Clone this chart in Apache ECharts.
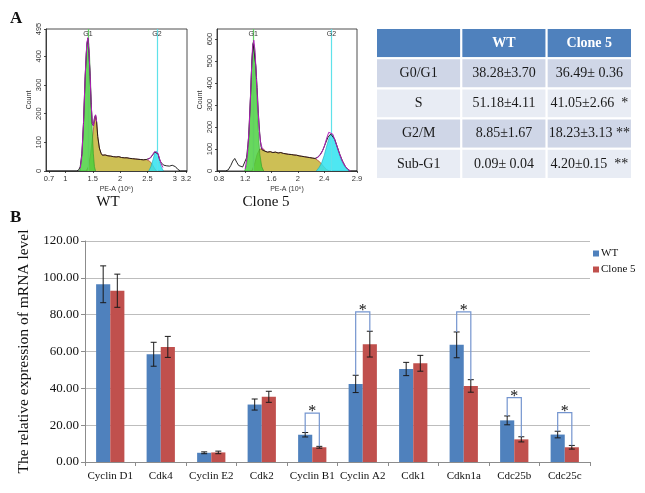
<!DOCTYPE html>
<html><head><meta charset="utf-8">
<script src="https://cdn.jsdelivr.net/npm/echarts@6/dist/echarts.min.js"></script>
<style>html,body{margin:0;padding:0;background:#fff}#c{width:645px;height:493px}</style>
</head><body><div id="c"></div>
<script>
// ---------------- Panel B data ----------------
const categories = ['Cyclin D1','Cdk4','Cyclin E2','Cdk2','Cyclin B1','Cyclin A2','Cdk1','Cdkn1a','Cdc25b','Cdc25c'];
const wtValues    = [96.5, 58.5, 5.0, 31.2, 14.8, 42.4, 50.5, 63.6, 22.6, 14.9];
const wtErrors    = [10.0, 6.5, 0.5, 3.0, 1.2, 4.7, 3.6, 7.0, 2.4, 1.8];
const cloneValues = [93.0, 62.5, 5.2, 35.4, 8.0, 64.0, 53.6, 41.3, 12.3, 8.0];
const cloneErrors = [9.0, 5.7, 0.7, 3.0, 0.5, 7.0, 4.3, 3.4, 1.4, 1.0];
const sigCategories  = [4, 5, 7, 8, 9];
const sigBracketTops = [26.5, 81.5, 81.5, 35.0, 26.8];
const seriesNames = ['WT', 'Clone 5'];

// ---------------- Panel A table ----------------
const tableHeader = ['', 'WT', 'Clone 5'];
const tableRows   = ['G0/G1', 'S', 'G2/M', 'Sub-G1'];
const tableWT     = ['38.28\u00b13.70', '51.18\u00b14.11', '8.85\u00b11.67', '0.09\u00b1 0.04'];
const tableClone  = ['36.49\u00b1 0.36', '41.05\u00b12.66  *', '18.23\u00b13.13 **', '4.20\u00b10.15  **'];

// ---------------- Panel A histograms (WT) ----------------
const wtXTicks = [0.7, 1, 1.5, 2, 2.5, 3, 3.2];
const wtYTicks = [0, 100, 200, 300, 400, 495];
const wtGates  = [1.405, 2.67];
const wtRaw = [[0.645,0],[1.20,0],[1.24,3],[1.27,15],[1.30,60],[1.33,170],[1.36,330],[1.39,440],[1.41,462],[1.43,410],[1.45,330],[1.47,230],[1.49,165],[1.51,158],[1.53,185],[1.55,195],[1.57,170],[1.59,120],[1.62,80],[1.65,62],[1.675,55],[1.70,52],[1.725,56],[1.75,50],[1.775,53],[1.80,48],[1.825,52],[1.85,47],[1.875,50],[1.90,46],[1.925,49],[1.95,45],[1.975,50],[2.00,44],[2.025,47],[2.05,43],[2.075,46],[2.10,42],[2.125,46],[2.15,41],[2.175,44],[2.20,40],[2.225,43],[2.25,39],[2.275,42],[2.30,38],[2.325,41],[2.35,37],[2.375,40],[2.40,36],[2.425,39],[2.45,36],[2.475,40],[2.50,38],[2.55,45],[2.59,55],[2.63,66],[2.66,72],[2.69,60],[2.72,40],[2.75,28],[2.80,20],[2.85,18],[2.90,17],[2.95,20],[2.98,24],[3.01,15],[3.05,6],[3.10,0],[3.22,0]];
const wtG1 = [[1.26,0],[1.29,30],[1.32,110],[1.35,260],[1.38,410],[1.41,462],[1.43,440],[1.45,360],[1.47,250],[1.49,140],[1.51,60],[1.53,15],[1.55,0]];
const wtS  = [[1.38,0],[1.42,15],[1.46,60],[1.49,110],[1.52,160],[1.55,195],[1.57,170],[1.59,120],[1.62,80],[1.65,62],[1.675,55],[1.70,52],[1.725,56],[1.75,50],[1.775,53],[1.80,48],[1.825,52],[1.85,47],[1.875,50],[1.90,46],[1.925,49],[1.95,45],[1.975,50],[2.00,44],[2.025,47],[2.05,43],[2.075,46],[2.10,42],[2.125,46],[2.15,41],[2.175,44],[2.20,40],[2.225,43],[2.25,39],[2.275,42],[2.30,38],[2.325,41],[2.35,37],[2.375,40],[2.40,36],[2.425,39],[2.45,36],[2.475,40],[2.50,37],[2.54,34],[2.58,25],[2.62,12],[2.66,0]];
const wtG2 = [[2.52,0],[2.56,15],[2.60,40],[2.63,62],[2.66,70],[2.69,58],[2.72,35],[2.75,15],[2.79,0]];
const wtFit = [[1.27,10],[1.30,55],[1.33,165],[1.36,330],[1.39,445],[1.41,465],[1.43,415],[1.45,335],[1.47,235],[1.49,168],[1.51,158],[1.53,182],[1.55,196],[1.57,172],null,[2.50,40],[2.55,46],[2.59,57],[2.63,68],[2.66,74],[2.69,62],[2.72,42],[2.75,25],[2.78,12]];

// ---------------- Panel A histograms (Clone 5) ----------------
const c5XTicks = [0.8, 1.2, 1.6, 2, 2.4, 2.9];
const c5YTicks = [0, 100, 200, 300, 400, 500, 600, 646];
const c5Gates  = [1.32, 2.51];
const c5Raw = [[0.77,0],[0.90,0],[0.94,5],[0.98,25],[1.01,45],[1.04,57],[1.07,40],[1.10,25],[1.13,20],[1.16,18],[1.19,20],[1.22,60],[1.25,150],[1.28,340],[1.30,500],[1.32,580],[1.34,575],[1.36,480],[1.38,380],[1.40,260],[1.42,170],[1.44,110],[1.46,95],[1.48,100],[1.50,90],[1.52,94],[1.54,86],[1.56,92],[1.58,88],[1.60,93],[1.62,84],[1.64,90],[1.66,86],[1.68,91],[1.70,82],[1.72,87],[1.74,84],[1.76,88],[1.78,80],[1.80,84],[1.82,78],[1.84,83],[1.86,76],[1.88,81],[1.90,75],[1.92,79],[1.94,73],[1.96,77],[1.98,72],[2.00,76],[2.02,69],[2.04,73],[2.06,67],[2.08,71],[2.10,65],[2.12,69],[2.14,63],[2.16,66],[2.18,61],[2.20,64],[2.22,59],[2.24,62],[2.26,57],[2.28,60],[2.30,62],[2.34,75],[2.38,95],[2.42,125],[2.46,155],[2.50,168],[2.53,165],[2.56,145],[2.60,110],[2.64,75],[2.68,45],[2.72,22],[2.76,8],[2.80,0],[2.90,0]];
const c5G1 = [[1.19,0],[1.22,30],[1.25,120],[1.28,330],[1.30,500],[1.32,585],[1.34,570],[1.36,470],[1.38,320],[1.40,180],[1.42,80],[1.45,20],[1.48,0]];
const c5S  = [[1.30,0],[1.34,30],[1.38,75],[1.42,100],[1.45,95],[1.48,100],[1.50,90],[1.52,94],[1.54,86],[1.56,92],[1.58,88],[1.60,93],[1.62,84],[1.64,90],[1.66,86],[1.68,91],[1.70,82],[1.72,87],[1.74,84],[1.76,88],[1.78,80],[1.80,84],[1.82,78],[1.84,83],[1.86,76],[1.88,81],[1.90,75],[1.92,79],[1.94,73],[1.96,77],[1.98,72],[2.00,76],[2.02,69],[2.04,73],[2.06,67],[2.08,71],[2.10,65],[2.12,69],[2.14,63],[2.16,66],[2.18,61],[2.20,64],[2.22,59],[2.24,62],[2.26,57],[2.28,55],[2.32,45],[2.36,32],[2.40,18],[2.44,6],[2.48,0]];
const c5G2 = [[2.28,0],[2.32,15],[2.36,35],[2.40,70],[2.44,115],[2.48,155],[2.51,170],[2.54,160],[2.58,125],[2.62,85],[2.66,50],[2.70,25],[2.74,10],[2.78,0]];
const c5Fit = [[1.20,10],[1.23,70],[1.26,200],[1.29,420],[1.31,560],[1.33,595],[1.35,540],[1.37,420],[1.39,300],[1.41,200],[1.43,135],[1.46,100],[1.48,98],null,[2.28,58],[2.32,66],[2.36,82],[2.40,110],[2.44,150],[2.47,176],[2.50,178],[2.53,168],[2.57,135],[2.62,90],[2.67,50],[2.72,22],[2.77,6],[2.80,0]];
const gateNames = ['G1', 'G2'];

// ---------------- build option ----------------
const SERIF = 'Liberation Serif';
const SANS = 'Liberation Sans';
const chart = echarts.init(document.getElementById('c'), null, {renderer: 'canvas'});

function histX(idx, min, max, ticks) {
  return {type: 'value', gridIndex: idx, min: min, max: max,
    axisLine: {show: true, lineStyle: {color: '#222', width: 0.8}},
    axisTick: {show: true, length: 2, customValues: ticks, lineStyle: {color: '#222', width: 0.8}},
    axisLabel: {customValues: ticks, fontSize: 7.5, fontFamily: SANS, color: '#333', margin: 4},
    splitLine: {show: false},
    name: 'PE-A (10\u2076)', nameLocation: 'middle', nameGap: 15,
    nameTextStyle: {fontSize: 7, fontFamily: SANS, color: '#333'}};
}
function histY(idx, max, ticks) {
  return {type: 'value', gridIndex: idx, min: 0, max: max,
    axisLine: {show: true, lineStyle: {color: '#222', width: 0.8}},
    axisTick: {show: true, length: 2, customValues: ticks, lineStyle: {color: '#222', width: 0.8}},
    axisLabel: {customValues: ticks, fontSize: 7.5, fontFamily: SANS, color: '#333', rotate: 90, margin: 3},
    splitLine: {show: false},
    name: 'Count', nameLocation: 'middle', nameGap: 13, nameRotate: 90,
    nameTextStyle: {fontSize: 7, fontFamily: SANS, color: '#333'}};
}
function histSeries(idx, raw, g1, s, g2, fit, gates) {
  const common = {type: 'line', xAxisIndex: idx, yAxisIndex: idx, symbol: 'none', silent: true, animation: false};
  return [
    Object.assign({}, common, {data: s, lineStyle: {color: '#b5523a', width: 0.8},
      areaStyle: {color: '#cdbf55', opacity: 1}, z: 2}),
    Object.assign({}, common, {data: g2, lineStyle: {color: '#1aa8c0', width: 0.6},
      areaStyle: {color: '#2fe3f0', opacity: 0.85}, z: 3}),
    Object.assign({}, common, {data: g1, lineStyle: {color: '#2a9a2a', width: 0.6},
      areaStyle: {color: '#45cf3a', opacity: 0.82}, z: 4}),
    Object.assign({}, common, {data: raw, lineStyle: {color: '#111', width: 0.9}, z: 5}),
    Object.assign({}, common, {data: fit, connectNulls: false, lineStyle: {color: '#b01fb8', width: 1}, z: 6}),
    {type: 'scatter', xAxisIndex: idx, yAxisIndex: idx, silent: true, animation: false, symbolSize: 0.01, z: 7,
      data: gates.map((g, i) => ({value: [g, 0], name: gateNames[i]})),
      label: {show: false},
      markLine: {symbol: 'none', silent: true, animation: false,
        label: {show: true, position: 'end', distance: -9, formatter: p => p.name, fontSize: 7, fontFamily: SANS, color: '#333'},
        data: gates.map((g, i) => ({xAxis: g, name: gateNames[i],
          lineStyle: {color: i === 0 ? '#62cf62' : '#5fe2ea', width: 1.2, type: 'solid'}}))}}
  ];
}

// table cells
const tableCells = [], tableData = [];
const allRows = [tableHeader].concat(tableRows.map((r, i) => [r, tableWT[i], tableClone[i]]));
allRows.forEach((row, r) => row.forEach((txt, c) => { tableData.push([c, r]); tableCells.push(txt); }));

function errorRender(sign) {
  return function (params, api) {
    const cat = api.value(0), lo = api.value(1), hi = api.value(2);
    const bw = api.size([1, 0])[0];
    const pLo = api.coord([cat, lo]), pHi = api.coord([cat, hi]);
    const x = pLo[0] + sign * bw * 0.14;
    const st = {stroke: '#1a1a1a', lineWidth: 1};
    return {type: 'group', children: [
      {type: 'line', shape: {x1: x, y1: pLo[1], x2: x, y2: pHi[1]}, style: st},
      {type: 'line', shape: {x1: x - 3, y1: pHi[1], x2: x + 3, y2: pHi[1]}, style: st},
      {type: 'line', shape: {x1: x - 3, y1: pLo[1], x2: x + 3, y2: pLo[1]}, style: st}
    ]};
  };
}

const option = {
  animation: false,
  backgroundColor: '#fff',
  grid: [
    {left: 46, top: 29, width: 141, height: 142, show: true, borderColor: '#222', borderWidth: 0.8},
    {left: 217, top: 29, width: 140, height: 142, show: true, borderColor: '#222', borderWidth: 0.8},
    {left: 376, top: 28, width: 256, height: 151},
    {left: 85, top: 241, width: 505, height: 221}
  ],
  xAxis: [
    histX(0, 0.645, 3.22, wtXTicks),
    histX(1, 0.77, 2.9, c5XTicks),
    {type: 'category', gridIndex: 2, data: tableHeader.map((h, i) => 'c' + i), show: false},
    {type: 'category', gridIndex: 3, data: categories,
      axisLine: {lineStyle: {color: '#8c8c8c'}},
      axisTick: {show: true, length: 4, lineStyle: {color: '#8c8c8c'}},
      axisLabel: {fontFamily: SERIF, fontSize: 11, color: '#111', margin: 9, interval: 0}}
  ],
  yAxis: [
    histY(0, 495, wtYTicks),
    histY(1, 646, c5YTicks),
    {type: 'category', gridIndex: 2, inverse: true, data: ['h'].concat(tableRows), show: false},
    {type: 'value', gridIndex: 3, min: 0, max: 120, interval: 20,
      axisLine: {show: true, lineStyle: {color: '#8c8c8c'}},
      axisTick: {show: true, length: 4, lineStyle: {color: '#8c8c8c'}},
      axisLabel: {fontFamily: SERIF, fontSize: 13, color: '#111', margin: 6, formatter: v => v.toFixed(2)},
      splitLine: {lineStyle: {color: '#bdbdbd', width: 1}},
      name: 'The relative expression of mRNA level', nameLocation: 'middle', nameGap: 46, nameRotate: 90,
      nameTextStyle: {fontFamily: SERIF, fontSize: 15.5, color: '#111'}}
  ],
  legend: {data: seriesNames, orient: 'vertical', left: 588, top: 243, itemWidth: 6, itemHeight: 6, itemGap: 5,
    icon: 'rect', textStyle: {fontFamily: SERIF, fontSize: 11, color: '#111', padding: [0, 0, 0, -3]}},
  graphic: [
    {type: 'text', left: 10, top: 10, style: {text: 'A', font: 'bold 17px "Liberation Serif"', fill: '#111'}},
    {type: 'text', left: 10, top: 209, style: {text: 'B', font: 'bold 17px "Liberation Serif"', fill: '#111'}},
    {type: 'text', x: 108, y: 202, style: {text: 'WT', font: '15px "Liberation Serif"', fill: '#111', align: 'center', verticalAlign: 'middle'}},
    {type: 'text', x: 266, y: 202, style: {text: 'Clone 5', font: '15px "Liberation Serif"', fill: '#111', align: 'center', verticalAlign: 'middle'}}
  ],
  series: [].concat(
    histSeries(0, wtRaw, wtG1, wtS, wtG2, wtFit, wtGates),
    histSeries(1, c5Raw, c5G1, c5S, c5G2, c5Fit, c5Gates),
    [{
      type: 'custom', xAxisIndex: 2, yAxisIndex: 2, silent: true, data: tableData,
      renderItem: function (params, api) {
        const col = api.value(0), row = api.value(1);
        const c = api.coord([col, row]);
        const s = api.size([1, 1]);
        const fill = row === 0 ? '#4f81bd' : (row % 2 === 1 ? '#cfd6e7' : '#e8ecf4');
        return {type: 'group', children: [
          {type: 'rect', shape: {x: c[0] - s[0] / 2, y: c[1] - s[1] / 2, width: s[0], height: s[1]},
            style: {fill: fill, stroke: '#fff', lineWidth: 2}},
          {type: 'text', style: {text: tableCells[params.dataIndex], x: c[0], y: c[1], align: 'center', verticalAlign: 'middle',
            fill: row === 0 ? '#fff' : '#1a1a1a',
            font: (row === 0 ? 'bold ' : '') + '14px "Liberation Serif"'}}
        ]};
      }
    },
    {name: seriesNames[0], type: 'bar', xAxisIndex: 3, yAxisIndex: 3, data: wtValues, barWidth: '28%', barGap: '0%',
      itemStyle: {color: '#4f81bd'}},
    {name: seriesNames[1], type: 'bar', xAxisIndex: 3, yAxisIndex: 3, data: cloneValues, barWidth: '28%', barGap: '0%',
      itemStyle: {color: '#c0504d'}},
    {type: 'custom', xAxisIndex: 3, yAxisIndex: 3, silent: true, z: 5,
      data: wtValues.map((v, i) => [i, v - wtErrors[i], v + wtErrors[i]]), renderItem: errorRender(-1)},
    {type: 'custom', xAxisIndex: 3, yAxisIndex: 3, silent: true, z: 5,
      data: cloneValues.map((v, i) => [i, v - cloneErrors[i], v + cloneErrors[i]]), renderItem: errorRender(1)},
    {type: 'custom', xAxisIndex: 3, yAxisIndex: 3, silent: true, z: 6,
      data: sigCategories.map((c, k) => [c, wtValues[c] + wtErrors[c], cloneValues[c] + cloneErrors[c], sigBracketTops[k]]),
      renderItem: function (params, api) {
        const cat = api.value(0);
        const bw = api.size([1, 0])[0];
        const pL = api.coord([cat, api.value(1)]), pR = api.coord([cat, api.value(2)]), pT = api.coord([cat, api.value(3)]);
        const xL = pT[0] - bw * 0.14, xR = pT[0] + bw * 0.14;
        return {type: 'group', children: [
          {type: 'polyline', shape: {points: [[xL, pL[1]], [xL, pT[1]], [xR, pT[1]], [xR, pR[1]]]},
            style: {stroke: '#7495cf', lineWidth: 1.2, fill: null}},
          {type: 'text', style: {text: '*', x: pT[0], y: pT[1] - 1, align: 'center', verticalAlign: 'middle',
            font: '16px "Liberation Serif"', fill: '#111'}}
        ]};
      }
    }]
  )
};
chart.setOption(option);
</script>
</body></html>
